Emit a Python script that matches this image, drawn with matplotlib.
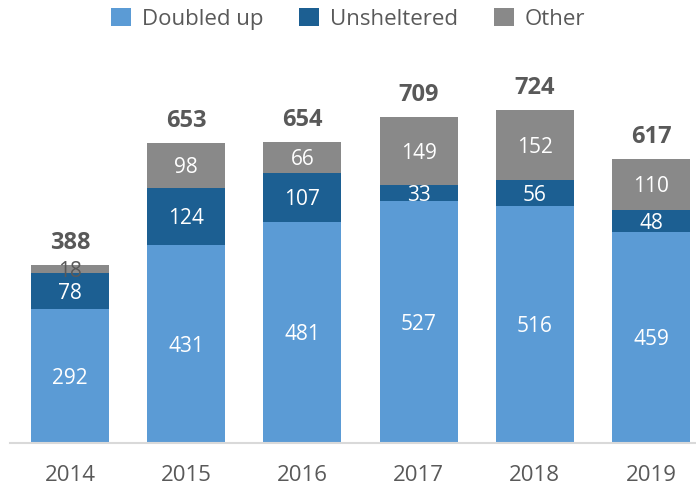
import matplotlib.pyplot as plt
from matplotlib.patches import Patch

plt.rcParams['font.family'] = ['Open Sans', 'DejaVu Sans']

years = ['2014', '2015', '2016', '2017', '2018', '2019']
doubled_up = [292, 431, 481, 527, 516, 459]
unsheltered = [78, 124, 107, 33, 56, 48]
other = [18, 98, 66, 149, 152, 110]
totals = [388, 653, 654, 709, 724, 617]

c_doubled = '#5B9BD5'
c_unshelt = '#1C5F92'
c_other = '#898989'
text_grey = '#595959'

fig = plt.figure(figsize=(6.96, 4.91), dpi=100)
ax = fig.add_axes([10 / 696, 48 / 491, 686 / 696, 368 / 491])

x = list(range(len(years)))
width = 0.67

series = [(doubled_up, c_doubled), (unsheltered, c_unshelt), (other, c_other)]
bottoms = [0] * len(years)
for vals, col in series:
    ax.bar(x, vals, width, bottom=bottoms, color=col, edgecolor='none', zorder=2)
    for i, v in enumerate(vals):
        tc = 'white' if v >= 25 else text_grey
        ax.text(x[i], bottoms[i] + v / 2, str(v), ha='center', va='center_baseline',
                color=tc, fontsize=15, zorder=3)
    bottoms = [b + v for b, v in zip(bottoms, vals)]

for i, t in enumerate(totals):
    ax.annotate(str(t), (x[i], bottoms[i]), xytext=(0, 7), textcoords='offset points',
                ha='center', va='bottom', fontsize=17, fontweight='bold', color=text_grey)

ax.set_xlim(-0.516, 5.387)
ax.set_ylim(0, 800)
ax.set_xticks(x)
ax.set_xticklabels(years, fontsize=16, color=text_grey)
ax.tick_params(axis='x', length=0, pad=16)
ax.set_yticks([])
for s in ['top', 'right', 'left']:
    ax.spines[s].set_visible(False)
ax.spines['bottom'].set_color('#D9D9D9')
ax.spines['bottom'].set_linewidth(1.5)

handles = [Patch(facecolor=c_doubled, label='Doubled up'),
           Patch(facecolor=c_unshelt, label='Unsheltered'),
           Patch(facecolor=c_other, label='Other')]
fig.legend(handles=handles, loc='upper center', bbox_to_anchor=(0.5, 1.025), ncol=3,
           frameon=False, fontsize=16, labelcolor=text_grey, handlelength=0.9,
           handleheight=0.9, handletextpad=0.5, columnspacing=1.6)

fig.savefig('out.png', dpi=100)
